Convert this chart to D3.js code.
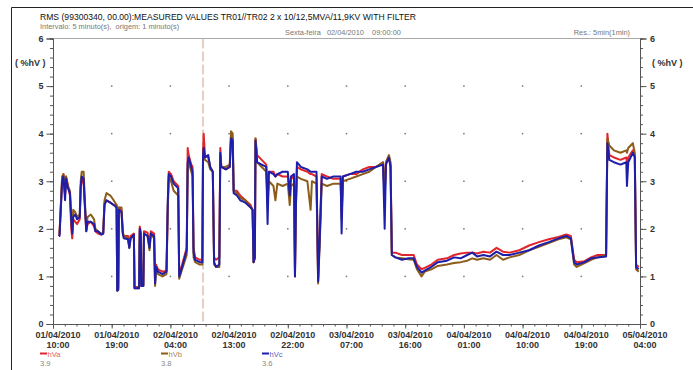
<!DOCTYPE html>
<html>
<head>
<meta charset="utf-8">
<script src="https://cdn.jsdelivr.net/npm/d3@7"></script>
<style>
body { margin: 0; background: #fff; }
text { font-family: "Liberation Sans", Arial, sans-serif; }
</style>
</head>
<body>
<div id="chart"></div>
<script>
// hours after 01/04/2010 10:00
var hours = [0.9, 1.0, 1.4, 1.6, 1.85, 2.0, 2.3, 2.6, 2.8, 2.95, 3.1, 3.4, 3.7, 4.1, 4.25, 4.4, 4.7, 4.85, 5.1, 5.3,
	5.8, 6.3, 6.5, 6.9, 7.4, 7.7, 7.9, 8.2, 8.8, 9.3, 9.75, 9.85, 10.0, 10.1, 10.5, 10.7, 10.85, 11.5, 11.7, 11.9,
	12.4, 12.5, 13.2, 13.3, 13.45, 13.55, 13.85, 13.95, 14.5, 14.8, 15.0, 15.5, 15.65, 15.8, 16.1, 16.8, 17.4, 17.6, 17.75, 18.1,
	18.5, 19.2, 19.35, 19.8, 20.5, 20.65, 20.8, 21.2, 21.4, 21.55, 21.8, 22.5, 22.9, 23.0, 23.1, 23.3, 23.8, 24.1, 24.5, 24.7,
	25.0, 25.5, 25.65, 25.8, 26.5, 27.1, 27.3, 27.55, 27.7, 28.2, 28.7, 29.5, 30.3, 30.6, 30.75, 30.95, 31.05, 31.3, 32.0, 32.7,
	32.9, 33.1, 33.8, 34.1, 34.4, 35.2, 36.0, 36.3, 36.5, 36.95, 37.1, 37.25, 37.4, 38.0, 39.0, 39.5, 39.7, 40.4, 40.65, 40.9,
	41.2, 42.0, 43.0, 44.1, 44.25, 44.45, 45.5, 46.5, 47.5, 48.5, 49.5, 50.6, 50.85, 51.05, 51.5, 51.75, 51.95, 52.5, 53.5, 54.5,
	55.3, 55.8, 56.5, 57.0, 58.0, 59.0, 60.4, 61.5, 62.5, 63.5, 64.3, 65.0, 66.0, 67.0, 68.0, 69.0, 70.0, 71.5, 73.0, 74.5,
	76.0, 77.5, 78.7, 79.4, 79.9, 80.3, 81.5, 82.5, 83.5, 84.8, 85.0, 85.3, 86.0, 87.0, 87.9, 88.0, 88.2, 88.9, 89.2, 89.4,
	89.8];

var hVa = [1.85, 1.9, 3.05, 3.15, 2.7, 3.1, 2.9, 2.7, 2.0, 1.8, 2.2, 2.15, 2.1, 2.2, 2.85, 3.05, 2.95, 2.55, 1.95, 2.1,
	2.15, 2.05, 1.95, 1.9, 1.88, 1.9, 2.55, 2.6, 2.55, 2.5, 2.5, 0.75, 0.75, 2.45, 2.4, 1.9, 1.85, 1.85, 1.65, 1.85,
	1.9, 0.78, 0.78, 2.05, 1.95, 0.82, 0.82, 1.95, 1.92, 1.65, 1.95, 1.9, 0.9, 1.25, 1.15, 1.1, 1.12, 2.5, 3.2, 3.15,
	3.0, 2.9, 1.05, 1.25, 1.6, 3.7, 3.55, 3.35, 3.3, 1.6, 1.4, 1.35, 1.35, 3.6, 4.0, 3.55, 3.5, 3.3, 3.2, 1.4,
	1.35, 1.4, 3.7, 3.3, 3.25, 3.3, 4.0, 3.9, 2.8, 2.8, 2.7, 2.6, 2.5, 2.4, 1.3, 1.4, 3.9, 3.55, 3.45, 3.35,
	2.6, 3.2, 3.2, 3.1, 3.15, 3.1, 3.1, 2.8, 3.1, 3.05, 1.1, 2.6, 3.3, 3.25, 3.2, 3.15, 3.15, 3.1, 0.95, 1.9,
	3.15, 3.1, 3.05, 3.05, 2.3, 3.1, 3.15, 3.15, 3.25, 3.3, 3.3, 3.4, 2.7, 3.4, 3.5, 3.35, 1.5, 1.5, 1.45, 1.45,
	1.45, 1.25, 1.15, 1.18, 1.25, 1.35, 1.38, 1.45, 1.48, 1.5, 1.5, 1.48, 1.52, 1.5, 1.6, 1.52, 1.5, 1.55, 1.65, 1.72,
	1.78, 1.83, 1.88, 1.85, 1.35, 1.3, 1.32, 1.4, 1.45, 1.45, 4.0, 3.55, 3.5, 3.45, 3.5, 3.4, 3.5, 3.65, 3.55, 1.25,
	1.2];

var hVb = [1.9, 1.9, 3.1, 3.15, 2.75, 3.1, 2.9, 2.8, 2.2, 1.95, 2.4, 2.35, 2.25, 2.3, 3.0, 3.2, 3.2, 2.7, 2.0, 2.25,
	2.3, 2.2, 2.0, 1.95, 1.9, 1.92, 2.6, 2.75, 2.7, 2.6, 2.5, 0.7, 0.72, 2.45, 2.45, 1.95, 1.85, 1.8, 1.6, 1.8,
	1.85, 0.75, 0.75, 1.95, 1.85, 0.8, 0.8, 1.9, 1.85, 1.55, 1.9, 1.8, 0.8, 1.15, 1.05, 1.0, 1.05, 2.4, 3.1, 3.0,
	2.8, 2.7, 0.95, 1.15, 1.45, 3.3, 3.4, 3.2, 3.1, 1.4, 1.3, 1.25, 1.25, 3.45, 3.6, 3.45, 3.4, 3.25, 3.2, 1.25,
	1.2, 1.2, 3.55, 3.3, 3.3, 3.35, 4.05, 4.0, 2.8, 2.75, 2.65, 2.6, 2.45, 2.4, 1.3, 1.4, 3.9, 3.4, 3.3, 3.2,
	2.5, 3.0, 2.9, 2.6, 2.95, 2.9, 2.95, 2.5, 2.9, 2.95, 1.0, 2.5, 3.1, 3.05, 3.0, 2.4, 3.0, 2.95, 0.85, 1.7,
	2.95, 2.9, 2.95, 2.95, 2.2, 3.0, 3.05, 3.1, 3.15, 3.2, 3.3, 3.4, 2.6, 3.4, 3.55, 3.4, 1.45, 1.4, 1.38, 1.36,
	1.35, 1.15, 1.0, 1.1, 1.15, 1.22, 1.25, 1.28, 1.3, 1.33, 1.38, 1.35, 1.38, 1.35, 1.45, 1.35, 1.4, 1.45, 1.55, 1.62,
	1.7, 1.78, 1.82, 1.78, 1.25, 1.2, 1.28, 1.35, 1.4, 1.45, 3.9, 3.75, 3.65, 3.6, 3.65, 3.6, 3.7, 3.8, 3.6, 1.15,
	1.1];

var hVc = [1.85, 1.85, 3.0, 3.1, 2.6, 3.05, 2.85, 2.75, 2.2, 1.9, 2.25, 2.3, 2.2, 2.25, 2.9, 3.1, 3.05, 2.6, 1.95, 2.15,
	2.15, 2.1, 1.95, 1.95, 1.88, 1.9, 2.5, 2.6, 2.55, 2.5, 2.45, 0.7, 0.72, 2.4, 2.35, 1.9, 1.8, 1.78, 1.6, 1.8,
	1.88, 0.75, 0.75, 2.0, 1.9, 0.8, 0.8, 1.9, 1.85, 1.6, 1.9, 1.85, 0.85, 1.2, 1.1, 1.05, 1.1, 2.6, 3.15, 3.1,
	2.95, 2.85, 1.0, 1.2, 1.55, 3.4, 3.5, 3.3, 3.2, 1.5, 1.35, 1.3, 1.3, 3.5, 3.7, 3.5, 3.55, 3.3, 3.2, 1.3,
	1.2, 1.25, 3.6, 3.3, 3.25, 3.3, 3.9, 3.85, 2.75, 2.7, 2.6, 2.55, 2.45, 2.4, 1.3, 1.4, 3.85, 3.4, 3.35, 3.3,
	2.1, 3.2, 3.15, 3.1, 3.15, 3.2, 3.2, 2.7, 3.1, 3.15, 1.0, 2.5, 3.4, 3.3, 3.25, 3.2, 3.2, 3.2, 0.9, 1.8,
	3.1, 3.05, 3.1, 3.1, 1.9, 3.1, 3.15, 3.2, 3.2, 3.25, 3.3, 3.35, 2.0, 3.35, 3.5, 3.3, 1.45, 1.4, 1.35, 1.38,
	1.38, 1.2, 1.08, 1.12, 1.2, 1.3, 1.33, 1.4, 1.38, 1.45, 1.5, 1.42, 1.45, 1.42, 1.52, 1.45, 1.45, 1.5, 1.55, 1.65,
	1.72, 1.8, 1.85, 1.8, 1.3, 1.25, 1.3, 1.38, 1.4, 1.42, 3.8, 3.45, 3.4, 3.35, 3.4, 2.9, 3.4, 3.6, 3.5, 1.2,
	1.15];

var seriesNames = ["hVa", "hVb", "hVc"];
var seriesColors = ["#e0262a", "#8c5c18", "#1e1eaa"];
var legendValues = ["3.9", "3.8", "3.6"];
var yTicks = [0, 1, 2, 3, 4, 5, 6];

var svgWidth = 693;
var svgHeight = 370;

var margin = { top: 38.5, right: 53, bottom: 46, left: 53 };
var width = svgWidth - margin.left - margin.right;
var height = svgHeight - margin.top - margin.bottom;

var svg = d3.select("#chart")
	.append("svg")
	.attr("width", svgWidth)
	.attr("height", svgHeight);

// outer frame
svg.append("path")
	.attr("d", "M11.5,370 V7.5 H693")
	.attr("fill", "none")
	.attr("stroke", "#222")
	.attr("stroke-width", 1);

// header texts
svg.append("text")
	.attr("x", 40).attr("y", 19.5)
	.attr("font-size", 8.6).attr("fill", "#111")
	.text("RMS (99300340, 00.00):MEASURED VALUES TR01//TR02 2 x 10/12,5MVA/11,9KV WITH FILTER");

svg.append("text")
	.attr("x", 40).attr("y", 29)
	.attr("font-size", 7.4).attr("fill", "#777")
	.style("white-space", "pre")
	.text("Intervalo: 5 minuto(s),  origem: 1 minuto(s)");

svg.append("text")
	.attr("x", 285).attr("y", 35)
	.attr("font-size", 7.4).attr("fill", "#777")
	.style("white-space", "pre")
	.text("Sexta-feira   02/04/2010    09:00:00");

svg.append("text")
	.attr("x", 630).attr("y", 35)
	.attr("text-anchor", "end")
	.attr("font-size", 7.4).attr("fill", "#777")
	.text("Res.: 5min(1min)");

var chartGroup = svg.append("g")
	.attr("transform", `translate(${margin.left}, ${margin.top})`);

var start = new Date(2010, 3, 1, 10, 0);
var hourDate = h => new Date(start.getTime() + h * 3600000);

var xScale = d3.scaleTime()
	.domain([start, hourDate(90)])
	.range([0, width]);

var yScale = d3.scaleLinear()
	.domain([0, 6])
	.range([height, 0]);

var majorTicks = d3.range(0, 91, 9).map(hourDate);
var minorTicks = d3.range(0, 90.01, 1.8).map(hourDate);
var pad = d => (d < 10 ? "0" : "") + d;

// top border line
chartGroup.append("line")
	.attr("x1", 0).attr("x2", width)
	.attr("y1", 0).attr("y2", 0)
	.attr("stroke", "#aaa");

// grid dots
majorTicks.slice(1, -1).forEach(function(t) {
	[1, 2, 3, 4, 5].forEach(function(v) {
		chartGroup.append("rect")
			.attr("x", xScale(t) - 0.75)
			.attr("y", yScale(v) - 0.75)
			.attr("width", 1.5).attr("height", 1.5)
			.attr("fill", "#777");
	});
});

// cursor line 02/04/2010 09:00
chartGroup.append("line")
	.attr("x1", xScale(hourDate(23))).attr("x2", xScale(hourDate(23)))
	.attr("y1", 0).attr("y2", height)
	.attr("stroke", "#dcb4a4")
	.attr("stroke-width", 1.3)
	.attr("stroke-dasharray", "10,3");

// axes
var bottomMinor = d3.axisBottom(xScale).tickValues(minorTicks).tickSize(2.5).tickFormat("");
var bottomAxis = d3.axisBottom(xScale).tickValues(majorTicks).tickSize(4.5).tickFormat("");
var leftMinor = d3.axisLeft(yScale).ticks(30).tickSize(3).tickFormat("");
var leftAxis = d3.axisLeft(yScale).tickValues(yTicks).tickSize(6.5).tickFormat(d3.format("d"));
var rightMinor = d3.axisRight(yScale).ticks(30).tickSize(3).tickFormat("");
var rightAxis = d3.axisRight(yScale).tickValues(yTicks).tickSize(6.5).tickFormat(d3.format("d"));

var axes = [
	chartGroup.append("g").attr("transform", `translate(0, ${height})`).call(bottomMinor),
	chartGroup.append("g").attr("transform", `translate(0, ${height})`).call(bottomAxis),
	chartGroup.append("g").call(leftMinor),
	chartGroup.append("g").call(leftAxis),
	chartGroup.append("g").attr("transform", `translate(${width}, 0)`).call(rightMinor),
	chartGroup.append("g").attr("transform", `translate(${width}, 0)`).call(rightAxis)
];
axes.forEach(function(a) {
	a.selectAll("path.domain").attr("stroke", "#555");
	a.selectAll(".tick line").attr("stroke", "#555");
	a.selectAll(".tick text")
		.attr("font-family", "Liberation Sans, Arial, sans-serif")
		.attr("font-size", 9).attr("font-weight", "bold").attr("fill", "#333");
});
axes[3].selectAll(".tick text").attr("x", -9.5);
axes[5].selectAll(".tick text").attr("x", 10);

// x tick labels on two lines
var xLabels = chartGroup.append("g")
	.selectAll("text")
	.data(majorTicks)
	.enter()
	.append("text")
	.attr("text-anchor", "middle")
	.attr("font-size", 9).attr("font-weight", "bold").attr("fill", "#333")
	.attr("transform", d => `translate(${xScale(d) + 5}, ${height + 14})`);
xLabels.append("tspan")
	.attr("x", 0)
	.text(d => pad(d.getDate()) + "/" + pad(d.getMonth() + 1) + "/" + d.getFullYear());
xLabels.append("tspan")
	.attr("x", 0).attr("dy", 9.5)
	.text(d => pad(d.getHours()) + ":" + pad(d.getMinutes()));

// unit labels
svg.append("text")
	.attr("x", 15).attr("y", 66)
	.attr("font-size", 9).attr("font-weight", "bold").attr("fill", "#333")
	.style("white-space", "pre")
	.text("( %hV )");
svg.append("text")
	.attr("x", 652).attr("y", 66)
	.attr("font-size", 9).attr("font-weight", "bold").attr("fill", "#333")
	.style("white-space", "pre")
	.text("( %hV )");

// series lines
var seriesData = [hVa, hVb, hVc];
var line = d3.line()
	.x((d, i) => xScale(hourDate(hours[i])))
	.y(d => yScale(d));

seriesData.forEach(function(vals, k) {
	chartGroup.append("path")
		.datum(vals)
		.attr("fill", "none")
		.attr("stroke", seriesColors[k])
		.attr("stroke-width", 2)
		.attr("stroke-linejoin", "round")
		.attr("d", line);
});

// legend
var legendX = [40, 161, 262];
seriesNames.forEach(function(name, k) {
	svg.append("line")
		.attr("x1", legendX[k]).attr("x2", legendX[k] + 7)
		.attr("y1", 353.5).attr("y2", 353.5)
		.attr("stroke", seriesColors[k]).attr("stroke-width", 2);
	svg.append("text")
		.attr("x", legendX[k] + 7.5).attr("y", 356.5)
		.attr("font-size", 7.6).attr("fill", seriesColors[k]).attr("opacity", 0.75)
		.text(name);
	svg.append("text")
		.attr("x", legendX[k]).attr("y", 366)
		.attr("font-size", 7.6).attr("fill", "#888")
		.text(legendValues[k]);
});
</script>
</body>
</html>
